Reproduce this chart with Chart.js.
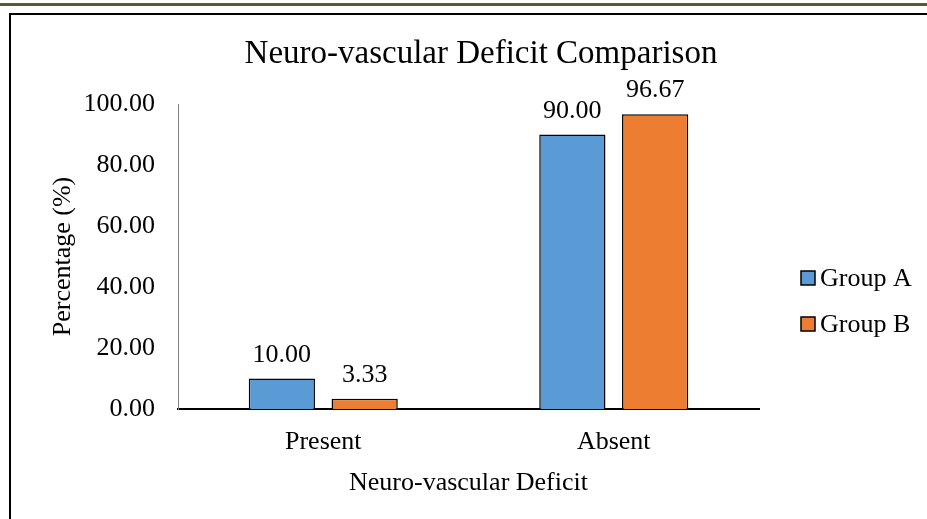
<!DOCTYPE html>
<html>
<head>
<meta charset="utf-8">
<script src="https://cdn.jsdelivr.net/npm/chart.js@4/dist/chart.umd.min.js"></script>
<style>
  html, body { margin: 0; padding: 0; background: #fff; }
  #wrap { width: 927px; height: 519px; position: relative; }
</style>
</head>
<body>
<div id="wrap"><canvas id="myChart" width="927" height="519"></canvas></div>
<script>
var categories = ['Present', 'Absent'];
var groupA = [10.00, 90.00];
var groupB = [3.33, 96.67];
var yTicks = [0, 20, 40, 60, 80, 100];
var chartTitle = 'Neuro-vascular Deficit Comparison';

var serif = '"Liberation Serif", "Times New Roman", serif';

// page frame: olive rule on top, black box round the chart, and the title
var framePlugin = {
    id: 'frame',
    beforeDraw: function(chart) {
        var c = chart.ctx;
        c.save();
        c.fillStyle = '#ffffff';
        c.fillRect(0, 0, chart.width, chart.height);
        c.fillStyle = '#4f6228';
        c.fillRect(0, 3, chart.width, 3);
        c.strokeStyle = '#000000';
        c.lineWidth = 2;
        c.strokeRect(10, 14, chart.width + 20, chart.height + 20);
        c.font = '33px ' + serif;
        c.fillStyle = '#000';
        c.textAlign = 'center';
        c.textBaseline = 'alphabetic';
        c.fillText(chartTitle, 481, 63);
        c.restore();
    }
};

// value labels above each bar
var valuePlugin = {
    id: 'values',
    afterDatasetsDraw: function(chart) {
        var c = chart.ctx;
        c.save();
        c.font = '26px ' + serif;
        c.fillStyle = '#000';
        c.textAlign = 'center';
        c.textBaseline = 'alphabetic';
        chart.data.datasets.forEach(function(ds, i) {
            chart.getDatasetMeta(i).data.forEach(function(bar, j) {
                c.fillText(ds.data[j].toFixed(2), bar.x, bar.y - 17);
            });
        });
        c.restore();
    }
};

// legend at the right, Excel style
var legendPlugin = {
    id: 'sideLegend',
    afterDraw: function(chart) {
        var c = chart.ctx;
        c.save();
        c.font = '26px ' + serif;
        c.textBaseline = 'middle';
        c.textAlign = 'left';
        chart.data.datasets.forEach(function(ds, i) {
            var y = 278 + i * 46;
            c.fillStyle = ds.backgroundColor;
            c.fillRect(801, y - 7, 14, 14);
            c.strokeStyle = '#000';
            c.lineWidth = 1.5;
            c.strokeRect(801, y - 7, 14, 14);
            c.fillStyle = '#000';
            c.fillText(ds.label, 820, y + 1);
        });
        c.restore();
    }
};

var ctx = document.getElementById('myChart').getContext('2d');

var myChart = new Chart(ctx, {
    type: 'bar',
    data: {
        labels: categories,
        datasets: [{
            label: 'Group A',
            data: groupA,
            backgroundColor: '#5b9bd5',
            borderColor: '#000000',
            borderWidth: 1.5,
            barPercentage: 0.8,
            categoryPercentage: 0.57
        }, {
            label: 'Group B',
            data: groupB,
            backgroundColor: '#ed7d31',
            borderColor: '#000000',
            borderWidth: 1.5,
            barPercentage: 0.8,
            categoryPercentage: 0.57
        }]
    },
    options: {
        responsive: false,
        animation: false,
        layout: {
            padding: { left: 44, right: 168, top: 104, bottom: 20 }
        },
        plugins: {
            legend: { display: false },
            tooltip: { enabled: false },
            title: { display: false }
        },
        scales: {
            x: {
                grid: { display: false, drawTicks: false },
                border: { display: true, color: '#000', width: 2 },
                afterFit: function(scale) { scale.height = 90; },
                ticks: {
                    color: '#000',
                    font: { family: serif, size: 26 },
                    padding: 18
                },
                title: {
                    display: true,
                    text: 'Neuro-vascular Deficit',
                    color: '#000',
                    font: { family: serif, size: 26 },
                    padding: { top: 8, bottom: 0 }
                }
            },
            y: {
                min: 0,
                max: 100,
                afterBuildTicks: function(scale) {
                    scale.ticks = yTicks.map(function(v) { return { value: v }; });
                },
                afterFit: function(scale) { scale.width = 134; },
                grid: { display: false, drawTicks: false },
                border: { display: true, color: '#7f7f7f', width: 1 },
                ticks: {
                    color: '#000',
                    font: { family: serif, size: 26 },
                    padding: 23,
                    callback: function(v) { return Number(v).toFixed(2); }
                },
                title: {
                    display: true,
                    text: 'Percentage (%)',
                    color: '#000',
                    font: { family: serif, size: 26 },
                    padding: { top: 4, bottom: 4 }
                }
            }
        }
    },
    plugins: [framePlugin, valuePlugin, legendPlugin]
});
</script>
</body>
</html>
